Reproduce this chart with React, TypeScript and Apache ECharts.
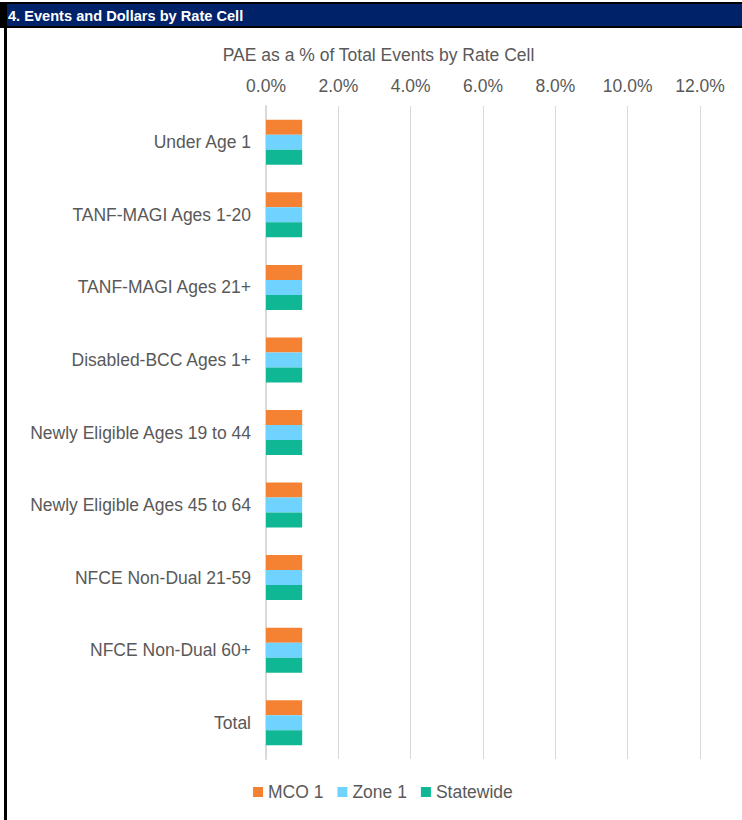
import React, { useEffect, useRef } from "react";
import * as echarts from "echarts";

const categories = [
  "Under Age 1",
  "TANF-MAGI Ages 1-20",
  "TANF-MAGI Ages 21+",
  "Disabled-BCC Ages 1+",
  "Newly Eligible Ages 19 to 44",
  "Newly Eligible Ages 45 to 64",
  "NFCE Non-Dual 21-59",
  "NFCE Non-Dual 60+",
  "Total",
];
const mco1 = [1.0, 1.0, 1.0, 1.0, 1.0, 1.0, 1.0, 1.0, 1.0];
const zone1 = [1.0, 1.0, 1.0, 1.0, 1.0, 1.0, 1.0, 1.0, 1.0];
const statewide = [1.0, 1.0, 1.0, 1.0, 1.0, 1.0, 1.0, 1.0, 1.0];
const seriesNames = ["MCO 1", "Zone 1", "Statewide"];
const colors = ["#F58232", "#70D2FF", "#10B795"];
const headerTitle = "4. Events and Dollars by Rate Cell";
const axisTitle = "PAE as a % of Total Events by Rate Cell";

export default function App() {
  const ref = useRef<HTMLDivElement>(null);
  useEffect(() => {
    if (!ref.current) return;
    const chart = echarts.init(ref.current, null, { renderer: "svg" });
    const font = "Liberation Sans";
    const txt = "#595959";
    const fs = 17.5;
    chart.setOption({
      animation: false,
      textStyle: { fontFamily: font },
      color: colors,
      graphic: [
        { type: "rect", shape: { x: 0, y: 2, width: 742, height: 26 }, style: { fill: "#000" } },
        { type: "rect", shape: { x: 7, y: 4, width: 735, height: 22 }, style: { fill: "#002269" } },
        { type: "rect", shape: { x: 4, y: 2, width: 3, height: 818 }, style: { fill: "#000" } },
        {
          type: "text",
          x: 8,
          y: 15.5,
          style: {
            text: headerTitle,
            fill: "#fff",
            fontSize: 14.6,
            fontWeight: "bold",
            fontFamily: font,
            textVerticalAlign: "middle",
          },
        },
        {
          type: "text",
          x: 378.5,
          y: 55,
          style: {
            text: axisTitle,
            fill: txt,
            fontSize: fs,
            fontFamily: font,
            textAlign: "center",
            textVerticalAlign: "middle",
          },
        },
      ],
      legend: {
        data: seriesNames,
        left: 248,
        top: 778,
        orient: "horizontal",
        icon: "rect",
        itemWidth: 10,
        itemHeight: 10,
        itemGap: 14,
        textStyle: { color: txt, fontSize: fs, fontFamily: font },
      },
      grid: { left: 266, right: 42, top: 106, bottom: 61, containLabel: false },
      xAxis: {
        type: "value",
        position: "top",
        min: 0,
        max: 12,
        interval: 2,
        axisLine: { show: false },
        axisTick: { show: false },
        axisLabel: {
          color: txt,
          fontSize: fs,
          margin: 11,
          formatter: (v: number) => v.toFixed(1) + "%",
        },
        splitLine: { lineStyle: { color: "#D9D9D9", width: 1 } },
      },
      yAxis: {
        type: "category",
        data: categories,
        inverse: true,
        axisTick: { show: false },
        axisLine: { lineStyle: { color: "#D9D9D9", width: 2 } },
        axisLabel: { color: txt, fontSize: fs, margin: 15 },
      },
      series: [
        { name: seriesNames[0], type: "bar", data: mco1, barWidth: 15, barGap: "0%" },
        { name: seriesNames[1], type: "bar", data: zone1, barWidth: 15, barGap: "0%" },
        { name: seriesNames[2], type: "bar", data: statewide, barWidth: 15, barGap: "0%" },
      ],
    });
    return () => chart.dispose();
  }, []);
  return (
    <div
      ref={ref}
      style={{ position: "absolute", left: 0, top: 0, width: 742, height: 820, background: "#fff" }}
    />
  );
}
